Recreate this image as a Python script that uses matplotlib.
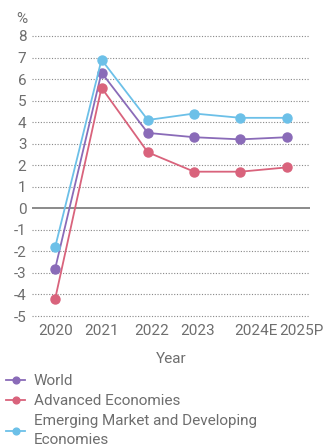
import matplotlib
matplotlib.use("Agg")
import matplotlib.pyplot as plt
import matplotlib.transforms as mtrans

years = ["2020", "2021", "2022", "2023", "2024E", "2025P"]
world = [-2.8, 6.3, 3.5, 3.3, 3.2, 3.3]
advanced = [-4.2, 5.6, 2.6, 1.7, 1.7, 1.9]
emerging = [-1.8, 6.9, 4.1, 4.4, 4.2, 4.2]
yticks = list(range(-5, 9))

plt.rcParams['font.family'] = ['Roboto', 'DejaVu Sans']
grey = "#6e6e6e"
fs = 11

fig = plt.figure(figsize=(3.24, 4.46), dpi=100)
ax = fig.add_axes([32/324, 1-322.5/446, (310-32)/324, (322.5-29.5)/446])

x = list(range(len(years)))
ax.plot(x, world, color="#8a6bb8", marker="o", ms=6.5, lw=1.3, label="World", zorder=3)
ax.plot(x, advanced, color="#d9637c", marker="o", ms=6.5, lw=1.3, label="Advanced Economies", zorder=3)
ax.plot(x, emerging, color="#6cc0e8", marker="o", ms=6.5, lw=1.3,
        label="Emerging Market and Developing\nEconomies", zorder=3)

for t in yticks:
    if t == 0:
        ax.axhline(0, color="#777777", lw=1.2, zorder=1)
    else:
        ax.axhline(t, color="#888888", lw=0.8, ls=(0, (1, 1.5)), zorder=1)

ax.set_xlim(-0.5, 5.5)
ax.set_ylim(-5.3, 8.3)
ax.set_yticks(yticks)
ax.set_yticklabels([str(t) for t in yticks])
ax.set_xticks(x)
ax.set_xticklabels(years)
for s in ax.spines.values():
    s.set_visible(False)
ax.tick_params(length=0, colors=grey, labelsize=fs, pad=4)
ax.tick_params(axis="x", pad=1)

# the last two year labels sit a bit to the right in the original
offs = [0, 0, 4, 3, 15, 15]
for lab, dx in zip(ax.get_xticklabels(), offs):
    lab.set_transform(lab.get_transform() + mtrans.ScaledTranslation(dx/100, 0, fig.dpi_scale_trans))

ax.set_xlabel("Year", color=grey, fontsize=fs, labelpad=10)
fig.text(16/324, 1-19/446, "%", color=grey, fontsize=fs, va="center")

leg = fig.legend(loc="upper left", bbox_to_anchor=(0.02, 1-374/446), frameon=False,
                 handlelength=1.2, handletextpad=0.6, labelspacing=0.4,
                 fontsize=fs, labelcolor=grey, markerscale=0.75, borderaxespad=0, borderpad=0)
for t in leg.get_texts():
    t.set_linespacing(1.45)

fig.savefig("out.png", dpi=100)
